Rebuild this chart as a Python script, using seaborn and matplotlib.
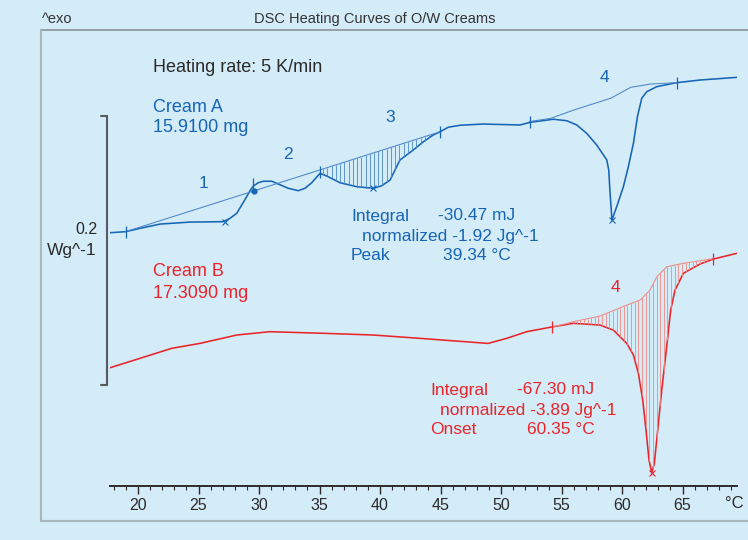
import numpy as np
import matplotlib
matplotlib.use("Agg")
import matplotlib.pyplot as plt
from matplotlib.lines import Line2D
import matplotlib.transforms as mtransforms
import seaborn as sns

# Cream A heating curve (temperature in C, heat flow in W/g, exo up)
temp_a = [17.69, 18.98, 20.17, 21.82, 24.30, 27.02, 27.60, 28.16, 28.57, 28.98,
          29.26, 29.53, 29.94, 30.36, 31.05, 31.60, 32.42, 33.25, 33.80, 34.36,
          35.04, 35.60, 36.69, 38.07, 39.45, 40.14, 40.83, 41.65, 42.75, 43.58,
          44.40, 44.96, 45.64, 46.61, 48.54, 51.57, 52.40, 54.32, 55.43, 56.26,
          57.08, 57.91, 58.74, 58.90, 59.01, 59.17, 59.56, 60.11, 60.52, 60.94,
          61.27, 61.63, 62.04, 62.87, 64.52, 66.45, 69.48]
hf_a = [0.1130, 0.1138, 0.1163, 0.1195, 0.1210, 0.1213, 0.1238, 0.1276, 0.1338, 0.1401,
        0.1446, 0.1481, 0.1506, 0.1517, 0.1517, 0.1496, 0.1464, 0.1446, 0.1464, 0.1506,
        0.1577, 0.1556, 0.1506, 0.1476, 0.1464, 0.1483, 0.1526, 0.1677, 0.1752, 0.1814,
        0.1865, 0.1889, 0.1923, 0.1938, 0.1947, 0.1940, 0.1960, 0.1983, 0.1972, 0.1940,
        0.1877, 0.1789, 0.1677, 0.1602, 0.1426, 0.1226, 0.1326, 0.1476, 0.1626, 0.1802,
        0.2002, 0.2141, 0.2190, 0.2228, 0.2258, 0.2278, 0.2298]

# Cream A baselines
base_a1_t = [18.98, 44.96]
base_a1_hf = [0.1138, 0.1889]
base_a4_t = [52.31, 54.11, 56.03, 59.07, 60.72, 62.37, 64.52]
base_a4_hf = [0.1965, 0.1990, 0.2053, 0.2141, 0.2223, 0.2248, 0.2258]

# Cream B heating curve
temp_b = [17.69, 22.79, 25.12, 28.16, 30.91, 35.29, 39.42, 43.31, 45.21, 48.93,
          50.47, 52.12, 54.05, 55.98, 58.18, 59.28, 60.39, 60.94, 61.35, 61.71,
          61.98, 62.23, 62.45, 62.67, 62.92, 63.28, 63.69, 64.02, 64.38, 65.07,
          66.45, 67.55, 69.48]
hf_b = [0.0115, 0.0261, 0.0298, 0.0361, 0.0386, 0.0374, 0.0361, 0.0336, 0.0323, 0.0298,
        0.0336, 0.0386, 0.0419, 0.0449, 0.0436, 0.0398, 0.0298, 0.0211, 0.0073, -0.0128,
        -0.0353, -0.0579, -0.0674, -0.0604, -0.0378, -0.0053, 0.0273, 0.0549, 0.0699, 0.0825,
        0.0895, 0.0932, 0.0975]

base_b_t = [54.19, 55.98, 58.18, 60.39, 61.49, 62.31, 62.87, 63.69, 65.07, 67.55]
base_b_hf = [0.0419, 0.0461, 0.0504, 0.0586, 0.0624, 0.0699, 0.0799, 0.0874, 0.0900, 0.0935]

# evaluation markers
limits_a_t = [18.98, 29.50, 35.04, 44.96, 52.40, 64.52]
limits_a_hf = [0.1138, 0.1500, 0.1590, 0.1889, 0.1962, 0.2258]
peaks_a_t = [27.19, 39.42, 59.17]
peaks_a_hf = [0.1213, 0.1464, 0.1226]
limits_b_t = [54.19, 67.55]
limits_b_hf = [0.0419, 0.0935]
peak_b_t = [62.45]
peak_b_hf = [-0.0674]

xticks = [20, 25, 30, 35, 40, 45, 50, 55, 60, 65]

bg = "#D4EBF8"
blue = "#1765B5"
blue_light = "#4A88C9"
red = "#E8252B"
red_light = "#F08A84"
dark = "#2B2B2B"

sns.set_theme(style="white")
plt.rcParams["font.family"] = ["Liberation Sans", "DejaVu Sans"]

W, H = 748, 540
fig = plt.figure(figsize=(W / 100, H / 100), dpi=100, facecolor=bg)
ax = fig.add_axes([110 / W, 54 / H, 627 / W, 456 / H])
ax.set_facecolor("none")
ax.set_xlim(17.686, 69.50)
ax.set_ylim(-0.0774, 0.2654)

# curves
sns.lineplot(x=temp_a, y=hf_a, ax=ax, color=blue, lw=1.15, sort=False)
sns.lineplot(x=temp_b, y=hf_b, ax=ax, color=red, lw=1.15, sort=False)
sns.lineplot(x=base_a1_t, y=base_a1_hf, ax=ax, color=blue_light, lw=0.75, sort=False)
sns.lineplot(x=base_a4_t, y=base_a4_hf, ax=ax, color=blue_light, lw=0.75, sort=False)
sns.lineplot(x=base_b_t, y=base_b_hf, ax=ax, color=red_light, lw=0.75, sort=False)

# hatched integration areas
ts = np.arange(35.3, 44.9, 0.35)
ax.vlines(ts, np.interp(ts, temp_a, hf_a), np.interp(ts, base_a1_t, base_a1_hf),
          color=blue_light, lw=0.6)
ts = np.arange(54.45, 67.4, 0.30)
ax.vlines(ts, np.interp(ts, temp_b, hf_b), np.interp(ts, base_b_t, base_b_hf),
          color=red_light, lw=0.6)

# markers
ax.plot(limits_a_t, limits_a_hf, ls="none", marker="|", ms=9, mew=0.9, color=blue)
ax.plot(peaks_a_t, peaks_a_hf, ls="none", marker="x", ms=5, mew=0.8, color=blue)
ax.plot([29.58], [0.1444], ls="none", marker="o", ms=3.5, color=blue)
ax.plot(limits_b_t, limits_b_hf, ls="none", marker="|", ms=9, mew=0.9, color=red)
ax.plot(peak_b_t, peak_b_hf, ls="none", marker="x", ms=5, mew=0.8, color=red)

# axis styling
for s in ["top", "left", "right"]:
    ax.spines[s].set_visible(False)
ax.spines["bottom"].set_color(dark)
ax.spines["bottom"].set_linewidth(1.4)
ax.set_yticks([])
ax.set_xticks(xticks)
ax.set_xticklabels([str(t) for t in xticks])
ax.set_xticks(np.arange(18, 70, 1), minor=True)
ax.tick_params(axis="x", which="major", direction="out", length=5.5, width=1.0,
               color=dark, labelsize=11.5, labelcolor=dark, pad=3.5, bottom=True)
ax.tick_params(axis="x", which="minor", direction="out", length=3, width=0.8,
               color=dark, bottom=True)


def ftext(x, y, s, color=dark, size=12.5, ha="left"):
    fig.text(x / W, 1 - y / H, s, color=color, fontsize=size, ha=ha, va="center")


# frame
fig.add_artist(Line2D([41 / W, 1], [1 - 30 / H, 1 - 30 / H], color="#8C9398", lw=1.2))
fig.add_artist(Line2D([41 / W, 41 / W], [1 - 30 / H, 1 - 521 / H], color="#A9B6BE", lw=1.5))
fig.add_artist(Line2D([41 / W, 1], [1 - 521 / H, 1 - 521 / H], color="#A9B6BE", lw=1.5))

# scale bar (0.2 W/g)
tr = mtransforms.blended_transform_factory(fig.transFigure, ax.transData)
y0, y1 = -0.0015, 0.2005
fig.add_artist(Line2D([107 / W, 107 / W], [y0, y1], transform=tr, color="#555B61", lw=1.5))
fig.add_artist(Line2D([101 / W, 107 / W], [y0, y0], transform=tr, color="#555B61", lw=1.5))
fig.add_artist(Line2D([101 / W, 107 / W], [y1, y1], transform=tr, color="#555B61", lw=1.5))
ftext(97, 230, "0.2", size=11.5, ha="right")
ftext(97, 251, "Wg^-1", size=12.5, ha="right")

ftext(42, 19, "^exo", size=10.5, color="#333333")
ftext(375, 19, "DSC Heating Curves of O/W Creams", size=10.5, color="#333333", ha="center")
ftext(153, 67, "Heating rate: 5 K/min", size=13)
ftext(153, 107, "Cream A", color=blue, size=13)
ftext(153, 128, "15.9100 mg", color=blue, size=13)
ftext(153, 272, "Cream B", color=red, size=13)
ftext(153, 293, "17.3090 mg", color=red, size=13)

ftext(204, 183, "1", color=blue, ha="center")
ftext(288, 155, "2", color=blue, ha="center")
ftext(390, 118, "3", color=blue, ha="center")
ftext(604, 77, "4", color=blue, ha="center")
ftext(615, 287, "4", color=red, ha="center")

ftext(351, 216, "Integral", color=blue)
ftext(438, 216, "-30.47 mJ", color=blue)
ftext(362, 236, "normalized -1.92 Jg^-1", color=blue)
ftext(351, 256, "Peak", color=blue)
ftext(443, 256, "39.34 °C", color=blue)

ftext(430, 390, "Integral", color=red)
ftext(517, 390, "-67.30 mJ", color=red)
ftext(440, 410, "normalized -3.89 Jg^-1", color=red)
ftext(430, 430, "Onset", color=red)
ftext(527, 430, "60.35 °C", color=red)

ftext(725, 504, "°C", size=12)

fig.savefig("out.png", dpi=100, facecolor=bg)
